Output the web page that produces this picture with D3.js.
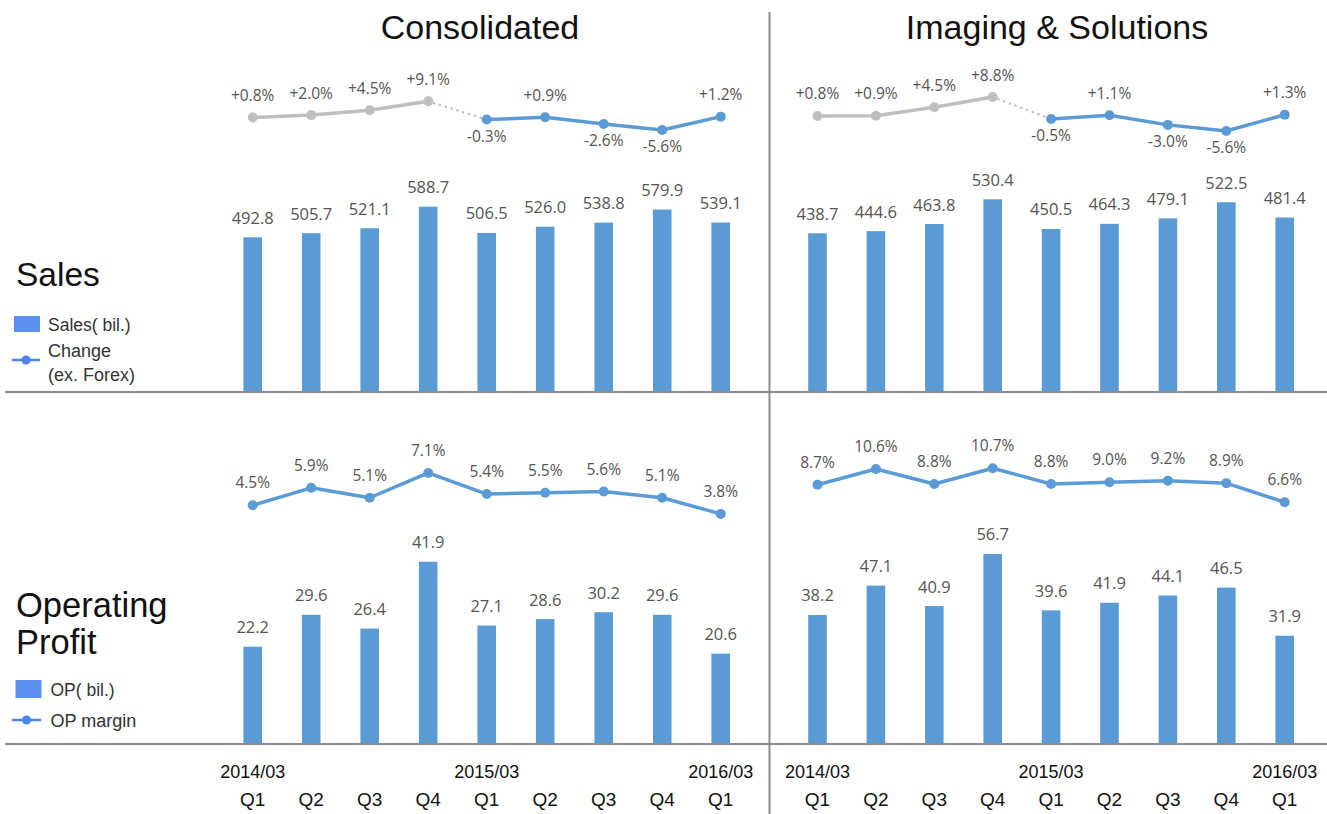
<!DOCTYPE html>
<html>
<head>
<meta charset="utf-8">
<script src="https://cdn.jsdelivr.net/npm/d3@7/dist/d3.min.js"></script>
<style>
  body { margin: 0; background: #fff; }
  svg { display: block; }
</style>
</head>
<body>
<svg id="chart" width="1327" height="814"></svg>
<script>
// Quarter axis
const quarters = ["Q1", "Q2", "Q3", "Q4", "Q1", "Q2", "Q3", "Q4", "Q1"];
const fiscalYears = ["2014/03", "", "", "", "2015/03", "", "", "", "2016/03"];

// Consolidated
const consSales  = [492.8, 505.7, 521.1, 588.7, 506.5, 526.0, 538.8, 579.9, 539.1];
const consChange = [0.8, 2.0, 4.5, 9.1, -0.3, 0.9, -2.6, -5.6, 1.2];
const consOP     = [22.2, 29.6, 26.4, 41.9, 27.1, 28.6, 30.2, 29.6, 20.6];
const consMargin = [4.5, 5.9, 5.1, 7.1, 5.4, 5.5, 5.6, 5.1, 3.8];

// Imaging & Solutions
const imgSales  = [438.7, 444.6, 463.8, 530.4, 450.5, 464.3, 479.1, 522.5, 481.4];
const imgChange = [0.8, 0.9, 4.5, 8.8, -0.5, 1.1, -3.0, -5.6, 1.3];
const imgOP     = [38.2, 47.1, 40.9, 56.7, 39.6, 41.9, 44.1, 46.5, 31.9];
const imgMargin = [8.7, 10.6, 8.8, 10.7, 8.8, 9.0, 9.2, 8.9, 6.6];

const panelTitles = ["Consolidated", "Imaging & Solutions"];
// the first quarters of the change series are on the previous basis (drawn grey)
const previousBasisCount = 4;

const BAR = "#5b9bd5", LINE = "#5b9bd5", GREY = "#bfbfbf", RULE = "#8c8c8c";
const LABEL = "#555555";
const VALUE_FONT = "'Open Sans', 'Noto Sans', sans-serif";
const TEXT_FONT = "'Liberation Sans', Arial, sans-serif";

const svg = d3.select("#chart");
const idx = d3.range(quarters.length);

const panels = [
  {
    title: panelTitles[0], titleX: 480,
    sales: consSales, change: consChange, op: consOP, margin: consMargin,
    x: d3.scalePoint().domain(idx).range([252.7, 720.7]),
    ySales: d3.scaleLinear().domain([0, 600]).range([394.5, 203.1]),
    yChange: d3.scaleLinear().domain([-10, 10]).range([138.5, 99.5]),
    yOP: d3.scaleLinear().domain([0, 60]).range([742.5, 483.6]),
    yMargin: d3.scaleLinear().domain([0, 10]).range([561, 437])
  },
  {
    title: panelTitles[1], titleX: 1057,
    sales: imgSales, change: imgChange, op: imgOP, margin: imgMargin,
    x: d3.scalePoint().domain(idx).range([817.5, 1284.7]),
    ySales: d3.scaleLinear().domain([0, 600]).range([396, 173.5]),
    yChange: d3.scaleLinear().domain([-10, 10]).range([141.4, 94.2]),
    yOP: d3.scaleLinear().domain([0, 60]).range([740.9, 543.1]),
    yMargin: d3.scaleLinear().domain([0, 10]).range([557, 474])
  }
];

const SALES_BASE = 392, OP_BASE = 744, BAR_W = 18.6;
const fmtPct = d => (d > 0 ? "+" : "") + d.toFixed(1) + "%";

panels.forEach(p => {
  const g = svg.append("g");

  // title
  g.append("text")
    .attr("x", p.titleX).attr("y", 39)
    .attr("text-anchor", "middle")
    .attr("font-family", TEXT_FONT).attr("font-size", 34)
    .attr("fill", "#111")
    .text(p.title);

  // sales bars
  g.selectAll(".sales").data(p.sales).join("rect")
    .attr("x", (d, i) => p.x(i) - BAR_W / 2)
    .attr("width", BAR_W)
    .attr("y", d => p.ySales(d))
    .attr("height", d => SALES_BASE - p.ySales(d))
    .attr("fill", BAR);
  g.selectAll(".salesLbl").data(p.sales).join("text")
    .attr("x", (d, i) => p.x(i))
    .attr("y", d => p.ySales(d) - 13.5)
    .attr("text-anchor", "middle")
    .attr("font-family", VALUE_FONT).attr("font-size", 16.5)
    .attr("fill", LABEL)
    .text(d => d.toFixed(1));

  // sales change line: grey previous basis, dotted link, blue current
  const pts = p.change.map((d, i) => [p.x(i), p.yChange(d)]);
  const line = d3.line();
  const prev = pts.slice(0, previousBasisCount);
  const curr = pts.slice(previousBasisCount);
  g.append("path").attr("d", line(prev))
    .attr("fill", "none").attr("stroke", GREY).attr("stroke-width", 3.5)
    .attr("stroke-linejoin", "round");
  g.append("path").attr("d", line([prev[prev.length - 1], curr[0]]))
    .attr("fill", "none").attr("stroke", GREY).attr("stroke-width", 2.5)
    .attr("stroke-dasharray", "0.1,6").attr("stroke-linecap", "round");
  g.append("path").attr("d", line(curr))
    .attr("fill", "none").attr("stroke", LINE).attr("stroke-width", 3.5)
    .attr("stroke-linejoin", "round");
  g.selectAll(".chgDot").data(p.change).join("circle")
    .attr("cx", (d, i) => p.x(i))
    .attr("cy", d => p.yChange(d))
    .attr("r", 5)
    .attr("fill", (d, i) => i < previousBasisCount ? GREY : LINE);
  g.selectAll(".chgLbl").data(p.change).join("text")
    .attr("x", (d, i) => p.x(i))
    .attr("y", d => d >= 0 ? p.yChange(d) - 16.5 : p.yChange(d) + 22)
    .attr("text-anchor", "middle")
    .attr("font-family", VALUE_FONT).attr("font-size", 15.5)
    .attr("fill", LABEL)
    .text(fmtPct);

  // operating profit bars
  g.selectAll(".op").data(p.op).join("rect")
    .attr("x", (d, i) => p.x(i) - BAR_W / 2)
    .attr("width", BAR_W)
    .attr("y", d => p.yOP(d))
    .attr("height", d => OP_BASE - p.yOP(d))
    .attr("fill", BAR);
  g.selectAll(".opLbl").data(p.op).join("text")
    .attr("x", (d, i) => p.x(i))
    .attr("y", d => p.yOP(d) - 13.5)
    .attr("text-anchor", "middle")
    .attr("font-family", VALUE_FONT).attr("font-size", 16.5)
    .attr("fill", LABEL)
    .text(d => d.toFixed(1));

  // operating margin line
  g.append("path")
    .attr("d", d3.line().x((d, i) => p.x(i)).y(d => p.yMargin(d))(p.margin))
    .attr("fill", "none").attr("stroke", LINE).attr("stroke-width", 3.5)
    .attr("stroke-linejoin", "round");
  g.selectAll(".mDot").data(p.margin).join("circle")
    .attr("cx", (d, i) => p.x(i))
    .attr("cy", d => p.yMargin(d))
    .attr("r", 5)
    .attr("fill", LINE);
  g.selectAll(".mLbl").data(p.margin).join("text")
    .attr("x", (d, i) => p.x(i))
    .attr("y", d => p.yMargin(d) - 17)
    .attr("text-anchor", "middle")
    .attr("font-family", VALUE_FONT).attr("font-size", 15.5)
    .attr("fill", LABEL)
    .text(d => d.toFixed(1) + "%");

  // quarter axis
  g.selectAll(".yr").data(fiscalYears).join("text")
    .attr("x", (d, i) => p.x(i))
    .attr("y", 778)
    .attr("text-anchor", "middle")
    .attr("font-family", TEXT_FONT).attr("font-size", 18)
    .attr("fill", "#111")
    .text(d => d);
  g.selectAll(".q").data(quarters).join("text")
    .attr("x", (d, i) => p.x(i))
    .attr("y", 806)
    .attr("text-anchor", "middle")
    .attr("font-family", TEXT_FONT).attr("font-size", 19)
    .attr("fill", "#111")
    .text(d => d);
});

// dividing rules
svg.append("line").attr("x1", 5).attr("x2", 1327).attr("y1", SALES_BASE).attr("y2", SALES_BASE)
  .attr("stroke", RULE).attr("stroke-width", 2);
svg.append("line").attr("x1", 5).attr("x2", 1327).attr("y1", OP_BASE).attr("y2", OP_BASE)
  .attr("stroke", RULE).attr("stroke-width", 2);
svg.append("line").attr("x1", 769.5).attr("x2", 769.5).attr("y1", 12).attr("y2", 814)
  .attr("stroke", RULE).attr("stroke-width", 2);

// row headings and legends
const side = svg.append("g").attr("font-family", TEXT_FONT);
side.append("text").attr("x", 16).attr("y", 286).attr("font-size", 33.5).attr("fill", "#111").text("Sales");
side.append("rect").attr("x", 14).attr("y", 316).attr("width", 26).attr("height", 16).attr("fill", "#5b8ff0");
side.append("text").attr("x", 48).attr("y", 330.5).attr("font-size", 17.5).attr("fill", "#333").text("Sales( bil.)");
side.append("line").attr("x1", 12).attr("x2", 40).attr("y1", 360).attr("y2", 360).attr("stroke", "#4a86e8").attr("stroke-width", 2.5);
side.append("circle").attr("cx", 26).attr("cy", 360).attr("r", 4.5).attr("fill", "#4a86e8");
side.append("text").attr("x", 48).attr("y", 357).attr("font-size", 18).attr("fill", "#333").text("Change");
side.append("text").attr("x", 48).attr("y", 380.5).attr("font-size", 18).attr("fill", "#333").text("(ex. Forex)");

side.append("text").attr("x", 16).attr("y", 616.5).attr("font-size", 34.5).attr("fill", "#111").text("Operating");
side.append("text").attr("x", 16).attr("y", 653.5).attr("font-size", 34.5).attr("fill", "#111").text("Profit");
side.append("rect").attr("x", 15.5).attr("y", 680).attr("width", 26).attr("height", 18).attr("fill", "#5b8ff0");
side.append("text").attr("x", 50.5).attr("y", 695.5).attr("font-size", 17.5).attr("fill", "#333").text("OP( bil.)");
side.append("line").attr("x1", 12).attr("x2", 41).attr("y1", 720).attr("y2", 720).attr("stroke", "#4a86e8").attr("stroke-width", 2.5);
side.append("circle").attr("cx", 26.5).attr("cy", 720).attr("r", 4.5).attr("fill", "#4a86e8");
side.append("text").attr("x", 50.5).attr("y", 726.5).attr("font-size", 18).attr("fill", "#333").text("OP margin");
</script>
</body>
</html>
